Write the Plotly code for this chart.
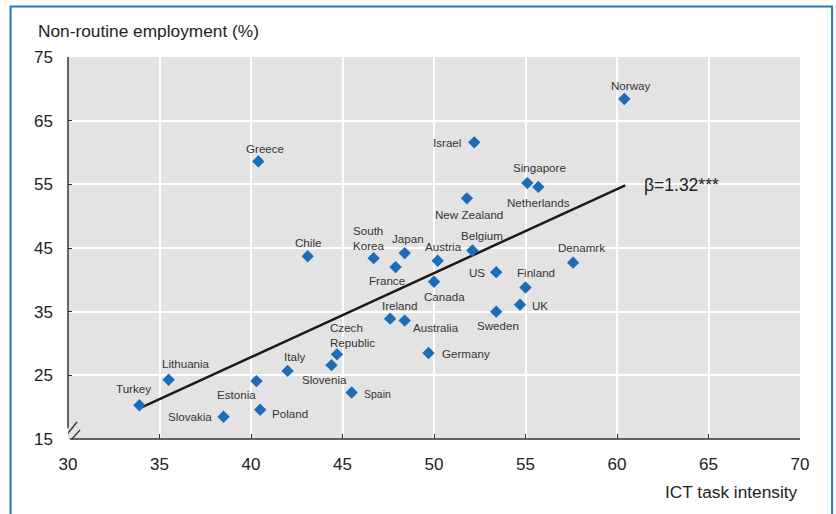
import plotly.graph_objects as go

countries = ["Turkey", "Lithuania", "Slovakia", "Estonia", "Poland", "Italy", "Slovenia",
             "Czech<br>Republic", "Spain", "Greece", "Chile", "South<br>Korea", "Japan", "France",
             "Ireland", "Australia", "Austria", "Canada", "Germany", "Belgium", "New Zealand",
             "Israel", "US", "Sweden", "UK", "Finland", "Singapore", "Netherlands", "Denamrk",
             "Norway"]
ict = [33.9, 35.5, 38.5, 40.3, 40.5, 42.0, 44.4, 44.7, 45.5, 40.4, 43.1, 46.7, 48.4, 47.9,
       47.6, 48.4, 50.2, 50.0, 49.7, 52.1, 51.8, 52.2, 53.4, 53.4, 54.7, 55.0, 55.1, 55.7,
       57.6, 60.4]
nonroutine = [20.3, 24.3, 18.5, 24.1, 19.6, 25.7, 26.6, 28.3, 22.3, 58.6, 43.7, 43.4, 44.2,
              42.0, 33.9, 33.6, 43.0, 39.7, 28.5, 44.6, 52.8, 61.6, 41.2, 35.0, 36.1, 38.8,
              55.2, 54.6, 42.7, 68.4]
fit_x = [33.9, 60.45]
fit_y = [19.8, 54.85]
beta_label = "β=1.32***"
x_ticks = [30, 35, 40, 45, 50, 55, 60, 65, 70]
y_ticks = [15, 25, 35, 45, 55, 65, 75]

# label placement: (xanchor, xshift, yshift, font size)
label_pos = {
    "Turkey": ("center", -6, 17, 11.6),
    "Lithuania": ("center", 17, 16, 11.6),
    "Slovakia": ("right", -10, 0, 11.6),
    "Estonia": ("center", -20, -13, 11.6),
    "Poland": ("left", 10, -4, 11.6),
    "Italy": ("center", 7, 14, 11.6),
    "Slovenia": ("center", -7, -14, 11.6),
    "Czech<br>Republic": ("left", -9, 19, 11.6),
    "Spain": ("left", 10, -1, 10.5),
    "Greece": ("center", 7, 13, 11.6),
    "Chile": ("center", 0, 14, 11.6),
    "South<br>Korea": ("left", -23, 20, 11.6),
    "Japan": ("center", 3, 15, 11.6),
    "France": ("center", -9, -13, 11.6),
    "Ireland": ("center", 9, 13, 11.6),
    "Australia": ("left", 6, -7, 11.6),
    "Austria": ("center", 6, 14, 11.6),
    "Canada": ("center", 10, -15, 11.6),
    "Germany": ("left", 11, 0, 11.6),
    "Belgium": ("center", 10, 15, 11.6),
    "New Zealand": ("center", 2, -16, 11.6),
    "Israel": ("right", -11, 0, 11.6),
    "US": ("right", -9, 0, 11.6),
    "Sweden": ("center", 2, -14, 11.6),
    "UK": ("left", 10, -1, 11.6),
    "Finland": ("center", 10, 15, 11.6),
    "Singapore": ("center", 12, 16, 11.6),
    "Netherlands": ("center", 0, -16, 11.6),
    "Denamrk": ("center", 8, 15, 11.6),
    "Norway": ("center", 7, 14, 11.6),
}

FONT = "Liberation Sans, Arial, sans-serif"
TXT = "#333333"
BLUE = "#1c6cb8"

fig = go.Figure()
fig.add_trace(go.Scatter(x=fit_x, y=fit_y, mode="lines",
                         line=dict(color="#1a1a1a", width=2.5), hoverinfo="skip",
                         showlegend=False))
fig.add_trace(go.Scatter(x=ict, y=nonroutine, mode="markers",
                         marker=dict(symbol="diamond", size=9.5, color=BLUE),
                         text=countries, showlegend=False))

annotations = []
for c, xv, yv in zip(countries, ict, nonroutine):
    xa, xs, ys, fs = label_pos[c]
    annotations.append(dict(x=xv, y=yv, xref="x", yref="y", text=c, showarrow=False,
                            xanchor=xa, yanchor="middle", xshift=xs, yshift=ys,
                            align="left", font=dict(family=FONT, size=fs, color=TXT)))
annotations.append(dict(x=fit_x[1], y=fit_y[1], xref="x", yref="y", text=beta_label,
                        showarrow=False, xanchor="left", yanchor="middle", xshift=17,
                        yshift=0, font=dict(family=FONT, size=17.5, color="#222222")))
annotations.append(dict(x=1.0, y=-0.14, xref="paper", yref="paper", text="ICT task intensity",
                        showarrow=False, xanchor="right", yanchor="middle",
                        font=dict(family=FONT, size=17.3, color="#222222")))
annotations.append(dict(x=-0.0437, y=1.068, xref="paper", yref="paper",
                        text="Non-routine employment (%)", showarrow=False,
                        xanchor="left", yanchor="middle",
                        font=dict(family=FONT, size=17.3, color="#222222")))

shapes = [
    # outer frame
    dict(type="rect", xref="paper", yref="paper", x0=-0.0785, x1=1.0438, y0=-0.25, y1=1.1325,
         line=dict(color="#1f78c8", width=2), fillcolor="rgba(0,0,0,0)", layer="below"),
    # y axis line (stops above the break)
    dict(type="line", xref="paper", yref="y", x0=0, x1=0, y0=16.7, y1=75,
         line=dict(color="#333333", width=1.5)),
    # x axis line
    dict(type="line", xref="x", yref="paper", x0=30.1, x1=70, y0=0, y1=0,
         line=dict(color="#333333", width=1.5)),
    # axis break slashes
    dict(type="line", xref="x", yref="y", xsizemode="pixel", ysizemode="pixel",
         xanchor=30, yanchor=15, x0=-8, y0=-4, x1=9, y1=17,
         line=dict(color="#333333", width=1.3)),
    dict(type="line", xref="x", yref="y", xsizemode="pixel", ysizemode="pixel",
         xanchor=30, yanchor=15, x0=-6, y0=-11, x1=12, y1=9,
         line=dict(color="#333333", width=1.3)),
]

fig.update_layout(
    width=836, height=514,
    margin=dict(l=68, r=36, t=57, b=75),
    paper_bgcolor="white",
    plot_bgcolor="#e3e3e3",
    annotations=annotations,
    shapes=shapes,
    xaxis=dict(range=[30, 70], tickvals=x_ticks, ticktext=[str(t) for t in x_ticks],
               showgrid=True, gridcolor="white", gridwidth=1.5, zeroline=False,
               showline=False, ticks="inside", ticklen=5, tickcolor="#333333",
               tickfont=dict(family=FONT, size=17, color="#222222"),
               ticklabelstandoff=13, fixedrange=True),
    yaxis=dict(range=[15, 75], tickvals=y_ticks, ticktext=[str(t) for t in y_ticks],
               showgrid=True, gridcolor="white", gridwidth=1.5, zeroline=False,
               showline=False, ticks="inside", ticklen=4, tickcolor="#333333",
               tickfont=dict(family=FONT, size=17, color="#222222"),
               ticklabelstandoff=14, fixedrange=True),
    showlegend=False,
)

fig.write_html("out.html")
